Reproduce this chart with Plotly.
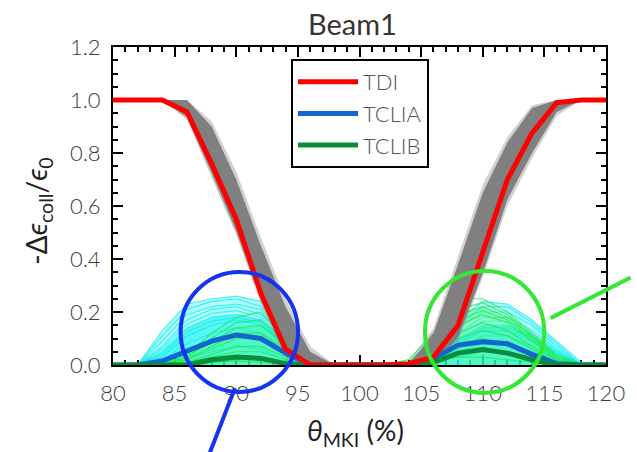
import plotly.graph_objects as go

# ---------------- data ----------------
theta = [80, 82, 84, 86, 88, 90, 92, 94, 96, 98, 100, 102, 104, 106, 108, 110, 112, 114, 116, 118, 120]

tdi   = [1.0, 1.0, 1.0, 0.955, 0.76, 0.55, 0.27, 0.06, 0.0, 0.0, 0.0, 0.0, 0.005, 0.03, 0.15, 0.42, 0.70, 0.875, 0.99, 1.0, 1.0]
tclia = [0.0, 0.0, 0.015, 0.05, 0.09, 0.113, 0.10, 0.045, 0.0, 0.0, 0.0, 0.0, 0.0, 0.025, 0.075, 0.088, 0.08, 0.04, 0.005, 0.0, 0.0]
tclib = [0.0, 0.0, 0.0, 0.0, 0.02, 0.03, 0.025, 0.005, 0.0, 0.0, 0.0, 0.0, 0.0, 0.01, 0.045, 0.058, 0.045, 0.02, 0.0, 0.0, 0.0]

# spread of the TDI runs (grey band)
tdi_band_lo_outer = [1.0, 1.0, 1.0, 0.925, 0.71, 0.49, 0.23, 0.025, 0.0, 0.0, 0.0, 0.0, 0.0, 0.0, 0.09, 0.33, 0.60, 0.78, 0.94, 1.0, 1.0]
tdi_band_hi_outer = [1.0, 1.0, 1.0, 1.0, 0.92, 0.73, 0.48, 0.25, 0.07, 0.0, 0.0, 0.0, 0.01, 0.14, 0.41, 0.68, 0.86, 0.98, 1.0, 1.0, 1.0]
tdi_band_lo = [1.0, 1.0, 1.0, 0.935, 0.725, 0.505, 0.245, 0.035, 0.0, 0.0, 0.0, 0.0, 0.0, 0.0, 0.105, 0.345, 0.625, 0.80, 0.955, 1.0, 1.0]
tdi_band_hi = [1.0, 1.0, 1.0, 1.0, 0.90, 0.70, 0.45, 0.22, 0.05, 0.0, 0.0, 0.0, 0.0, 0.12, 0.38, 0.65, 0.84, 0.97, 1.0, 1.0, 1.0]

# individual TCLIA runs (cyan)
tclia_runs = [
    [0, 0, 0.13, 0.23, 0.25, 0.26, 0.24, 0.16, 0.03, 0, 0, 0, 0, 0.06, 0.17, 0.24, 0.23, 0.17, 0.09, 0.01, 0],
    [0, 0, 0.11, 0.21, 0.24, 0.25, 0.22, 0.14, 0.02, 0, 0, 0, 0, 0.05, 0.15, 0.22, 0.22, 0.16, 0.08, 0.0, 0],
    [0, 0, 0.09, 0.19, 0.22, 0.23, 0.21, 0.12, 0.02, 0, 0, 0, 0, 0.05, 0.14, 0.20, 0.20, 0.15, 0.07, 0.0, 0],
    [0, 0, 0.07, 0.17, 0.21, 0.22, 0.19, 0.10, 0.01, 0, 0, 0, 0, 0.04, 0.12, 0.18, 0.18, 0.13, 0.06, 0, 0],
    [0, 0, 0.06, 0.155, 0.195, 0.205, 0.18, 0.09, 0.01, 0, 0, 0, 0, 0.035, 0.11, 0.165, 0.165, 0.12, 0.055, 0, 0],
    [0, 0, 0.05, 0.14, 0.18, 0.19, 0.17, 0.08, 0.0, 0, 0, 0, 0, 0.03, 0.10, 0.15, 0.15, 0.11, 0.05, 0, 0],
    [0, 0, 0.04, 0.125, 0.165, 0.18, 0.16, 0.075, 0.0, 0, 0, 0, 0, 0.025, 0.09, 0.14, 0.14, 0.10, 0.04, 0, 0],
    [0, 0, 0.03, 0.11, 0.15, 0.17, 0.15, 0.07, 0.0, 0, 0, 0, 0, 0.02, 0.08, 0.13, 0.13, 0.09, 0.03, 0, 0],
    [0, 0, 0.02, 0.08, 0.12, 0.14, 0.12, 0.05, 0.0, 0, 0, 0, 0, 0.02, 0.06, 0.11, 0.11, 0.07, 0.02, 0, 0],
    [0, 0, 0.01, 0.06, 0.09, 0.11, 0.09, 0.04, 0.0, 0, 0, 0, 0, 0.01, 0.05, 0.08, 0.08, 0.05, 0.01, 0, 0],
    [0, 0, 0.0, 0.03, 0.05, 0.07, 0.06, 0.02, 0.0, 0, 0, 0, 0, 0.01, 0.03, 0.05, 0.05, 0.03, 0.0, 0, 0],
]

# individual TCLIB runs (green)
tclib_runs = [
    [0, 0, 0, 0.04, 0.12, 0.18, 0.20, 0.10, 0.02, 0, 0, 0, 0.02, 0.12, 0.25, 0.25, 0.20, 0.12, 0.04, 0, 0],
    [0, 0, 0, 0.03, 0.10, 0.16, 0.17, 0.09, 0.01, 0, 0, 0, 0.01, 0.10, 0.21, 0.235, 0.19, 0.11, 0.03, 0, 0],
    [0, 0, 0, 0.03, 0.09, 0.14, 0.15, 0.08, 0.01, 0, 0, 0, 0.01, 0.09, 0.19, 0.22, 0.18, 0.11, 0.03, 0, 0],
    [0, 0, 0, 0.02, 0.07, 0.12, 0.12, 0.06, 0.0, 0, 0, 0, 0.01, 0.08, 0.17, 0.205, 0.17, 0.10, 0.02, 0, 0],
    [0, 0, 0, 0.02, 0.06, 0.10, 0.10, 0.05, 0.0, 0, 0, 0, 0.01, 0.07, 0.15, 0.19, 0.16, 0.09, 0.02, 0, 0],
    [0, 0, 0, 0.01, 0.04, 0.07, 0.07, 0.03, 0.0, 0, 0, 0, 0.0, 0.05, 0.12, 0.16, 0.13, 0.07, 0.02, 0, 0],
    [0, 0, 0, 0.01, 0.03, 0.05, 0.05, 0.02, 0.0, 0, 0, 0, 0.0, 0.04, 0.10, 0.13, 0.11, 0.06, 0.01, 0, 0],
    [0, 0, 0, 0.0, 0.01, 0.02, 0.02, 0.01, 0.0, 0, 0, 0, 0.0, 0.03, 0.08, 0.10, 0.08, 0.04, 0.01, 0, 0],
    [0, 0, 0, 0.005, 0.01, 0.015, 0.01, 0.005, 0.0, 0, 0, 0, 0.0, 0.02, 0.03, 0.03, 0.02, 0.01, 0.0, 0, 0],
]

x_ticks = [80, 85, 90, 95, 100, 105, 110, 115, 120]
y_ticks = [0.0, 0.2, 0.4, 0.6, 0.8, 1.0, 1.2]

# highlight circles (data coords: centre x, centre y, radius in px)
circle_blue = (90.25, 0.125, 60)
circle_green = (110.15, 0.125, 61)
pointer_blue = ((89.9, -0.087), (87.7, -0.35))
pointer_green = ((115.5, 0.177), (122.0, 0.33))

# ---------------- figure ----------------
W, H = 637, 452
ML, MR, MT, MB = 113, 20, 47, 87
PW, PH = W - ML - MR, H - MT - MB
XR, YR = (80, 120), (0, 1.2)


def px(x):
    return (x - XR[0]) / (XR[1] - XR[0])


def py(y):
    return (y - YR[0]) / (YR[1] - YR[0])


fig = go.Figure()

# cyan runs envelope fills
fig.add_trace(go.Scatter(x=theta, y=tclia_runs[0], mode="lines", line=dict(width=0),
                         fill="tozeroy", fillcolor="rgba(100,250,250,0.5)",
                         showlegend=False, hoverinfo="skip"))
fig.add_trace(go.Scatter(x=theta, y=tclia_runs[5], mode="lines", line=dict(width=0),
                         fill="tozeroy", fillcolor="rgba(0,240,240,0.5)",
                         showlegend=False, hoverinfo="skip"))
for run in tclia_runs:
    fig.add_trace(go.Scatter(x=theta, y=run, mode="lines",
                             line=dict(color="rgba(0,235,235,0.65)", width=1.2),
                             showlegend=False, hoverinfo="skip"))
# green runs fill + lines
fig.add_trace(go.Scatter(x=theta, y=tclib_runs[2], mode="lines", line=dict(width=0),
                         fill="tozeroy", fillcolor="rgba(60,245,90,0.3)",
                         showlegend=False, hoverinfo="skip"))
for run in tclib_runs:
    fig.add_trace(go.Scatter(x=theta, y=run, mode="lines",
                             line=dict(color="rgba(30,235,60,0.75)", width=1.2),
                             showlegend=False, hoverinfo="skip"))

# grey band (TDI runs)
fig.add_trace(go.Scatter(x=theta, y=tdi_band_lo_outer, mode="lines", line=dict(width=0),
                         showlegend=False, hoverinfo="skip"))
fig.add_trace(go.Scatter(x=theta, y=tdi_band_hi_outer, mode="lines", line=dict(width=0),
                         fill="tonexty", fillcolor="rgba(140,140,140,0.4)",
                         showlegend=False, hoverinfo="skip"))
fig.add_trace(go.Scatter(x=theta, y=tdi_band_lo, mode="lines", line=dict(width=0),
                         showlegend=False, hoverinfo="skip"))
fig.add_trace(go.Scatter(x=theta, y=tdi_band_hi, mode="lines", line=dict(width=0),
                         fill="tonexty", fillcolor="rgb(128,128,128)",
                         showlegend=False, hoverinfo="skip"))

# main curves
fig.add_trace(go.Scatter(x=theta, y=tclia, mode="lines", name="TCLIA", legendrank=2,
                         legendgroup="b", line=dict(color="#1464d2", width=5)))
fig.add_trace(go.Scatter(x=theta, y=tclib, mode="lines", name="TCLIB", legendrank=3,
                         legendgroup="c", line=dict(color="#0a8c3c", width=5)))
fig.add_trace(go.Scatter(x=theta, y=tdi, mode="lines", name="TDI", legendrank=1,
                         legendgroup="a", line=dict(color="#ff0000", width=5)))

# circles and pointers
shapes = []
for (cx, cy, r), col in [(circle_blue, "#1434f0"), (circle_green, "#33e833")]:
    rx = r / PW
    ry = r / PH
    shapes.append(dict(type="circle", xref="paper", yref="paper",
                       x0=px(cx) - rx, x1=px(cx) + rx, y0=py(cy) - ry, y1=py(cy) + ry,
                       line=dict(color=col, width=4)))
for (p0, p1), col in [(pointer_blue, "#1434f0"), (pointer_green, "#33e833")]:
    shapes.append(dict(type="line", xref="paper", yref="paper",
                       x0=px(p0[0]), y0=py(p0[1]), x1=px(p1[0]), y1=py(p1[1]),
                       line=dict(color=col, width=4)))

FONT = "Lato"
annotations = [
    dict(text="Beam1", xref="paper", yref="paper", x=(358 - ML) / PW, y=(H - MB - 24) / PH,
         xanchor="center", yanchor="middle", showarrow=False,
         font=dict(family=FONT, size=29, color="#3a3232")),
    dict(text="<i>θ</i><sub>MKI</sub> (%)", xref="paper", yref="paper",
         x=(361 - ML) / PW, y=(H - MB - 432) / PH, xanchor="center", yanchor="middle",
         showarrow=False, font=dict(family=FONT, size=28, color="#222222")),
    dict(text="-Δ<i>ϵ</i><sub>coll</sub>/<i>ϵ</i><sub>0</sub>", xref="paper", yref="paper",
         x=(36 - ML) / PW, y=(H - MB - 211) / PH, xanchor="center", yanchor="middle",
         textangle=-90, showarrow=False, font=dict(family=FONT, size=28, color="#222222")),
]

axis_common = dict(showline=True, linecolor="black", linewidth=2, mirror="allticks",
                   ticks="inside", ticklen=10, tickwidth=1.8, tickcolor="black",
                   showgrid=False, zeroline=False,
                   tickfont=dict(family=FONT, size=22, color="#3c3c3c", weight=300),
                   layer="below traces")

fig.update_layout(
    width=W, height=H,
    margin=dict(l=ML, r=MR, t=MT, b=MB),
    paper_bgcolor="white", plot_bgcolor="white",
    xaxis=dict(range=list(XR), tickvals=x_ticks, ticktext=[str(v) for v in x_ticks],
               minor=dict(dtick=1, ticks="inside", ticklen=5, tickwidth=1.5, tickcolor="black"),
               ticklabelstandoff=8, **axis_common),
    yaxis=dict(range=list(YR), tickvals=y_ticks, ticktext=[f"{v:.1f}" for v in y_ticks],
               minor=dict(dtick=0.05, ticks="inside", ticklen=5, tickwidth=1.5, tickcolor="black"),
               ticklabelstandoff=6, **axis_common),
    legend=dict(x=(295 - ML) / PW, y=(H - MB - 59) / PH, xanchor="left", yanchor="top",
                bordercolor="black", borderwidth=2, bgcolor="white",
                font=dict(family=FONT, size=22, color="#555555", weight=300),
                itemwidth=60, tracegroupgap=0, traceorder="grouped"),
    shapes=shapes,
    annotations=annotations,
    showlegend=True,
)

fig.write_html("out.html")
